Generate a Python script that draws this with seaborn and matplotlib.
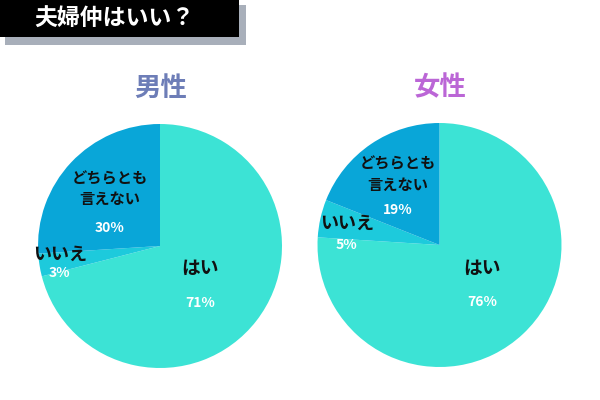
import matplotlib
matplotlib.use('Agg')
import matplotlib.pyplot as plt
import seaborn as sns
from matplotlib.patches import Rectangle

sns.set_theme(style='white')
plt.rcParams['font.family'] = ['Noto Sans CJK JP', 'DejaVu Sans']

# Data
categories = ['はい', 'いいえ', 'どちらとも\n言えない']
male_sizes = [71, 3, 26]          # wedge sizes as drawn
male_pct = ['71%', '3%', '30%']    # labels as printed
female_sizes = [76, 5, 19]
female_pct = ['76%', '5%', '19%']
colors = ['#3ce3d5', '#1dcadc', '#09a6d8']

title = '夫婦仲はいい？'
group_titles = ['男性', '女性']
group_colors = ['#6d7db7', '#bb66d6']

W, H = 600, 400
fig = plt.figure(figsize=(6, 4), dpi=100)
fig.patch.set_facecolor('white')

# title box with shadow
fig.add_artist(Rectangle((5 / W, 1 - 45 / H), 241 / W, 40 / H,
                         transform=fig.transFigure, color='#a8afba', lw=0))
fig.add_artist(Rectangle((0, 1 - 37 / H), 239 / W, 37 / H,
                         transform=fig.transFigure, color='black', lw=0))
fig.text(114 / W, 1 - 19 / H, title, color='white', fontsize=16.5,
         fontweight='bold', ha='center', va='center')


def draw_pie(cx, cy, sizes, pct, label_pos, pct_pos):
    r = 122
    ax = fig.add_axes([(cx - r) / W, (H - cy - r) / H, 2 * r / W, 2 * r / H])
    ax.pie(sizes, colors=colors, startangle=90, counterclock=False,
           wedgeprops=dict(linewidth=0))
    ax.set_xlim(-1, 1)
    ax.set_ylim(-1, 1)
    ax.axis('off')
    sizes_txt = [13.5, 13, 11]
    for i, cat in enumerate(categories):
        lx, ly = label_pos[i]
        ax.text(lx, ly, cat, ha='center', va='center', fontsize=sizes_txt[i],
                fontweight='bold', color='#111111', linespacing=1.35)
        px, py = pct_pos[i]
        ax.text(px, py, pct[i], ha='center', va='center', fontsize=10,
                fontweight='bold', color='white')
    return ax


draw_pie(160, 246, male_sizes, male_pct,
         [(0.33, -0.18), (-0.82, -0.065), (-0.41, 0.47)],
         [(0.33, -0.47), (-0.82, -0.22), (-0.41, 0.15)])
draw_pie(439.5, 245, female_sizes, female_pct,
         [(0.35, -0.19), (-0.76, 0.18), (-0.34, 0.58)],
         [(0.35, -0.47), (-0.76, 0.0), (-0.34, 0.29)])

for x, t, c in zip([161, 440], group_titles, group_colors):
    fig.text(x / W, 1 - 88 / H, t, color=c, fontsize=19, fontweight='bold',
             ha='center', va='center')

fig.savefig('out.png', dpi=100, facecolor='white')
